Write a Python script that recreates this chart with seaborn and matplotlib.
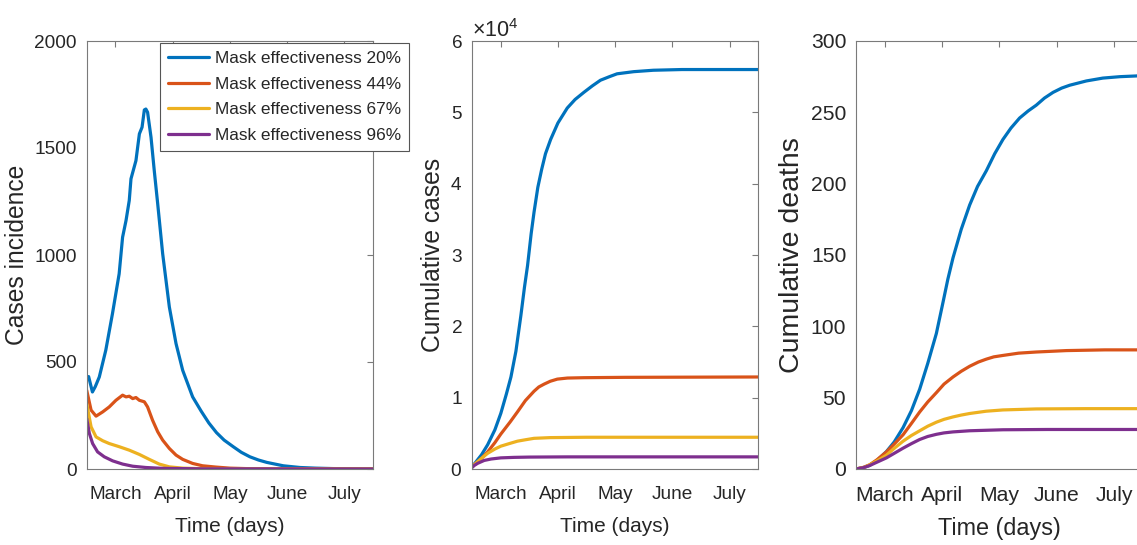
import numpy as np
import pandas as pd
import matplotlib
matplotlib.use("Agg")
import matplotlib.pyplot as plt
import seaborn as sns
from matplotlib.ticker import ScalarFormatter

# ---------------- data ----------------
series_labels = ["Mask effectiveness 20%", "Mask effectiveness 44%",
                 "Mask effectiveness 67%", "Mask effectiveness 96%"]
series_colors = ["#0072BD", "#D95319", "#EDB120", "#7E2F8E"]

month_ticks = [15, 45, 75, 105, 135]
month_labels = ["March", "April", "May", "June", "July"]

# Panel 1: cases incidence
inc_day_20 = [0, 1, 3, 4.5, 6.6, 10, 13.5, 17, 18.8, 20.6, 22.3, 23.2, 25.8, 27.6, 29, 30.2, 31,
              31.9, 33.7, 35.4, 37.2, 39.8, 43.3, 46.8, 50.3, 55.5, 60, 64, 68, 72, 76.8, 81,
              85.5, 90, 94.3, 103, 111.8, 120, 129, 140, 150]
inc_val_20 = [425, 432, 360, 385, 430, 555, 726, 912, 1083, 1161, 1255, 1356, 1441, 1566, 1597,
              1678, 1682, 1667, 1550, 1394, 1239, 1006, 757, 586, 461, 337, 270, 215, 170, 135,
              104, 78, 57, 42, 31, 15, 7, 4, 2, 1, 0]
inc_day_44 = [0, 2.3, 4.9, 8.4, 11.8, 15.3, 18.8, 20.6, 22.3, 24.1, 25.8, 27.6, 30.2, 31.9, 34.5,
              37.2, 39.8, 43.3, 46.8, 50.3, 55.5, 60.7, 67.7, 75, 85, 100, 150]
inc_val_44 = [368, 275, 247, 267, 290, 321, 345, 337, 340, 329, 334, 321, 314, 290, 228, 174,
              135, 96, 65, 45, 26, 15, 9, 4, 1.5, 0.5, 0]
inc_day_67 = [0, 2.3, 4.9, 8.4, 11.8, 17.1, 22.3, 27.6, 32.8, 38, 43.3, 50.3, 60, 75, 150]
inc_val_67 = [306, 197, 150, 132, 119, 104, 88, 68, 45, 23, 10, 4, 1.5, 0.3, 0]
inc_day_96 = [0, 1.4, 3.1, 5.7, 9.2, 13.6, 18.8, 24.1, 31, 39.8, 60, 150]
inc_val_96 = [236, 166, 119, 80, 57, 38, 23, 13, 7, 3, 0.8, 0]

# Panel 2: cumulative cases
cum_day_20 = [0, 1.2, 5, 8.2, 12, 15.1, 18, 20.4, 23, 25.6, 27.5, 29.1, 31, 32.5, 34.5, 36.5,
              38.5, 41.2, 45, 49.9, 54, 58.6, 63, 67.3, 72, 76, 84.7, 95, 110, 150]
cum_val_20 = [400, 700, 2000, 3400, 5500, 7800, 10500, 12900, 16500, 21500, 25500, 28500,
              33000, 36000, 39500, 42000, 44200, 46200, 48500, 50600, 51800, 52800, 53700,
              54500, 55000, 55400, 55700, 55900, 56000, 56000]
cum_day_44 = [0, 1.2, 5, 8.2, 12, 15.1, 20, 23.8, 28, 32.5, 35, 37.8, 41, 44.7, 50, 58.6, 80, 150]
cum_val_44 = [400, 600, 1500, 2400, 3700, 4900, 6600, 8000, 9600, 10900, 11500, 11900, 12300,
              12600, 12750, 12800, 12850, 12900]
cum_day_67 = [0, 1.2, 5, 8.2, 12, 15.1, 20, 23.8, 28, 32.5, 41, 60, 150]
cum_val_67 = [300, 600, 1500, 2200, 2800, 3200, 3600, 3900, 4100, 4300, 4400, 4450, 4450]
cum_day_96 = [0, 1.2, 3, 6.4, 10, 15.1, 22, 30, 50, 150]
cum_val_96 = [200, 500, 800, 1200, 1400, 1560, 1630, 1670, 1700, 1700]

# Panel 3: cumulative deaths
dth_day_20 = [0, 4, 7.1, 11, 15.9, 20, 24.6, 29, 33.3, 37.5, 42, 45.5, 48, 50.7, 55, 59.4, 63.5,
              68.1, 72.5, 76.8, 81, 85.5, 90, 94.2, 98.5, 103, 107.5, 111.7, 120.4, 129, 138,
              146.5, 150]
dth_val_20 = [0, 1, 2.5, 6, 12.2, 19, 29, 41, 56, 74, 95, 117, 133, 148, 168, 185, 198, 209,
              221, 231, 239, 246, 251, 255, 260, 264, 267, 269, 272, 274, 275, 275.5, 276]
dth_day_44 = [0, 4, 7.1, 11, 15.9, 20, 24.6, 29, 33.3, 37.5, 42, 46, 50.7, 55, 59.4, 64, 68.1,
              72, 76.8, 85, 94.2, 110, 130, 150]
dth_val_44 = [0, 1.2, 2.9, 6.5, 12, 17.5, 24, 32, 40, 47, 53.5, 59.5, 64.5, 68.5, 72, 75, 77,
              78.6, 79.6, 81.2, 82, 83, 83.5, 83.5]
dth_day_67 = [0, 4, 8, 12, 15.9, 20, 24.6, 29, 33.3, 37.5, 42, 46, 50.7, 55, 59.4, 68, 76.8,
              94.2, 120, 150]
dth_val_67 = [0, 1, 3.5, 6.5, 9.7, 14.5, 19.5, 23.5, 26.8, 30, 32.8, 34.8, 36.5, 37.8, 38.9,
              40.5, 41.4, 42.1, 42.3, 42.3]
dth_day_96 = [0, 4, 7.1, 11, 15.9, 20, 24.6, 29, 33.3, 37.5, 42, 46, 50.7, 59.4, 76.8, 100, 150]
dth_val_96 = [0, 1, 2.4, 4.8, 7.8, 11, 14.6, 17.8, 20.7, 22.8, 24.3, 25.3, 26, 26.8, 27.5,
              27.7, 27.7]


def long_df(days, vals):
    frames = []
    for lab, d, v in zip(series_labels, days, vals):
        frames.append(pd.DataFrame({"day": d, "value": v, "series": lab}))
    return pd.concat(frames, ignore_index=True)


df_inc = long_df([inc_day_20, inc_day_44, inc_day_67, inc_day_96],
                 [inc_val_20, inc_val_44, inc_val_67, inc_val_96])
df_cum = long_df([cum_day_20, cum_day_44, cum_day_67, cum_day_96],
                 [cum_val_20, cum_val_44, cum_val_67, cum_val_96])
df_dth = long_df([dth_day_20, dth_day_44, dth_day_67, dth_day_96],
                 [dth_val_20, dth_val_44, dth_val_67, dth_val_96])

# ---------------- style ----------------
sns.set_theme(style="white")
plt.rcParams["font.family"] = ["Liberation Sans", "DejaVu Sans"]
plt.rcParams["mathtext.default"] = "regular"
plt.rcParams["mathtext.fontset"] = "custom"
plt.rcParams["mathtext.rm"] = "Liberation Sans"

W, H = 1137, 545
fig = plt.figure(figsize=(W / 100, H / 100), dpi=100)
fig.patch.set_facecolor("white")

bottom = (H - 469) / H
height = 428 / H
ax1 = fig.add_axes([86.7 / W, bottom, 286.3 / W, height])
ax2 = fig.add_axes([472 / W, bottom, 286.3 / W, height])
ax3 = fig.add_axes([856 / W, bottom, 287 / W, height])

palette = dict(zip(series_labels, series_colors))
text_col = "#262626"
spine_col = "#7a7a7a"

# (axis, data, ylim, yticks, ylabel, tick size, xlabel size, ylabel size, xlabel pad)
panels = [
    (ax1, df_inc, (0, 2000), np.arange(0, 2001, 500), "Cases incidence", 13.7, 15.0, 17.7, 10),
    (ax2, df_cum, (0, 60000), np.arange(0, 60001, 10000), "Cumulative cases", 13.7, 15.0, 17.7, 10),
    (ax3, df_dth, (0, 300), np.arange(0, 301, 50), "Cumulative deaths", 15.2, 16.8, 20.5, 9),
]

for ax, df, ylim, yticks, ylabel, tfs, xlfs, ylfs, xlpad in panels:
    sns.lineplot(data=df, x="day", y="value", hue="series", palette=palette,
                 hue_order=series_labels, estimator=None, linewidth=2.3,
                 legend=False, ax=ax)
    ax.set_xlim(0, 150)
    ax.set_ylim(*ylim)
    ax.set_xticks(month_ticks)
    ax.set_xticklabels(month_labels)
    ax.set_yticks(yticks)
    ax.set_xlabel("Time (days)", fontsize=xlfs, color=text_col, labelpad=xlpad)
    ax.set_ylabel(ylabel, fontsize=ylfs, color=text_col, labelpad=4)
    ax.tick_params(axis="both", direction="in", length=4, width=0.8, color=spine_col,
                   labelcolor=text_col, labelsize=tfs, top=True, right=True)
    ax.tick_params(axis="x", pad=12)
    ax.tick_params(axis="y", pad=7)
    for sp in ax.spines.values():
        sp.set_visible(True)
        sp.set_color(spine_col)
        sp.set_linewidth(0.8)
    ax.set_facecolor("white")

fmt = ScalarFormatter(useMathText=True)
fmt.set_powerlimits((-3, 3))
ax2.yaxis.set_major_formatter(fmt)
ax2.yaxis.get_offset_text().set_fontsize(15.5)
ax2.yaxis.get_offset_text().set_color(text_col)

leg = ax1.legend(ax1.get_lines()[:4], series_labels, loc="upper right",
                 bbox_to_anchor=(409 / W, (H - 43) / H), bbox_transform=fig.transFigure,
                 borderaxespad=0, fontsize=12.4, frameon=True, fancybox=False,
                 edgecolor="#555555", framealpha=1, handlelength=2.4,
                 handletextpad=0.35, labelspacing=0.62, borderpad=0.45)
leg.get_frame().set_linewidth(0.8)
for t in leg.get_texts():
    t.set_color(text_col)

fig.savefig("out.png", dpi=100, facecolor="white")
